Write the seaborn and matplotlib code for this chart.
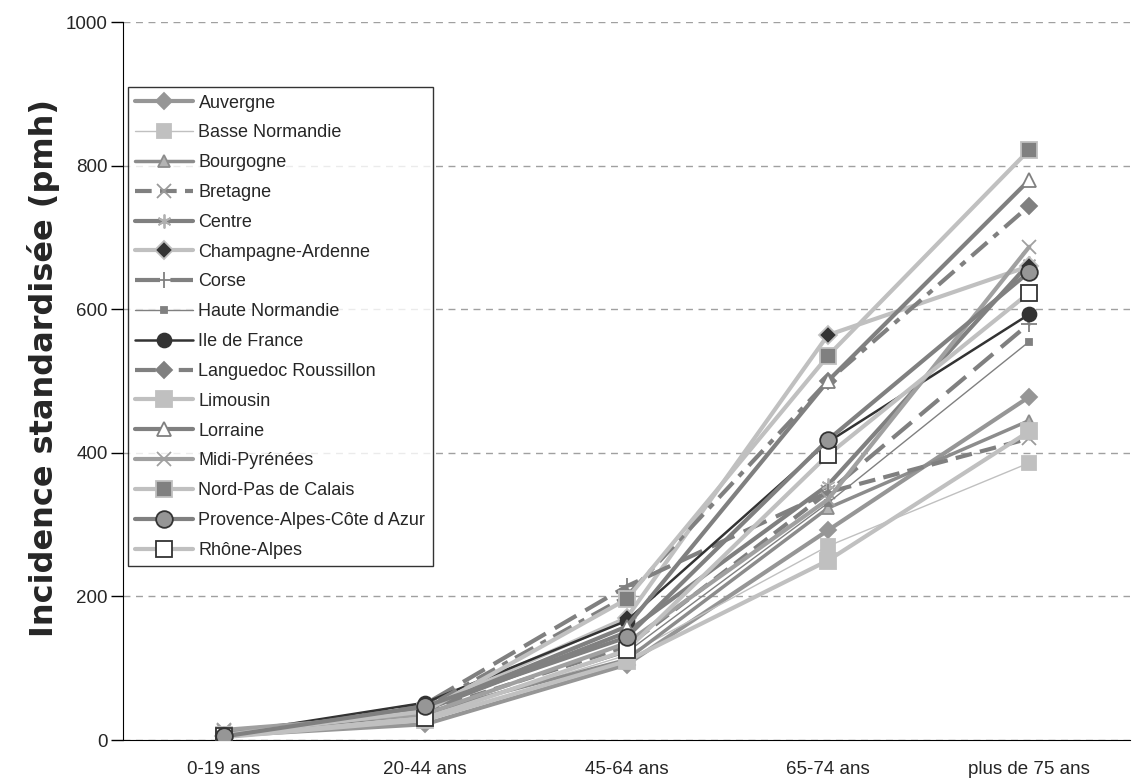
import numpy as np
import pandas as pd
import matplotlib
matplotlib.use("Agg")
import matplotlib.pyplot as plt
from matplotlib.ticker import MultipleLocator, FixedLocator
import seaborn as sns

# age groups on the x axis
categories = ["0-19 ans", "20-44 ans", "45-64 ans", "65-74 ans", "plus de 75 ans"]

# incidence per region (pmh)
auvergne = [6, 22, 105, 292, 478]
basse_normandie = [5, 33, 118, 270, 386]
bourgogne = [7, 38, 112, 323, 445]
bretagne = [12, 40, 130, 345, 420]
centre = [8, 42, 150, 355, 664]
champagne = [6, 45, 170, 564, 660]
corse = [5, 50, 214, 345, 580]
haute_normandie = [7, 35, 122, 330, 555]
ile_de_france = [8, 52, 166, 415, 593]
languedoc = [6, 45, 200, 500, 744]
limousin = [4, 28, 110, 250, 430]
lorraine = [8, 43, 158, 500, 780]
midi_pyrenees = [14, 36, 135, 335, 687]
nord_pas = [7, 40, 196, 535, 822]
paca = [5, 47, 143, 418, 652]
rhone_alpes = [5, 30, 125, 397, 623]

regions = ["Auvergne", "Basse Normandie", "Bourgogne", "Bretagne", "Centre",
           "Champagne-Ardenne", "Corse", "Haute Normandie", "Ile de France",
           "Languedoc Roussillon", "Limousin", "Lorraine", "Midi-Pyrénées",
           "Nord-Pas de Calais", "Provence-Alpes-Côte d Azur", "Rhône-Alpes"]
values = [auvergne, basse_normandie, bourgogne, bretagne, centre, champagne,
          corse, haute_normandie, ile_de_france, languedoc, limousin, lorraine,
          midi_pyrenees, nord_pas, paca, rhone_alpes]

# line / marker look for each region (Excel grayscale style)
styles = {
    "Auvergne": dict(color="#969696", lw=3, ls="-", marker="D", ms=8, mfc="#969696", mec="#969696"),
    "Basse Normandie": dict(color="#c0c0c0", lw=1, ls="-", marker="s", ms=10, mfc="#c0c0c0", mec="#c0c0c0"),
    "Bourgogne": dict(color="#8c8c8c", lw=2.5, ls="-", marker="^", ms=9, mfc="#b4b4b4", mec="#8c8c8c"),
    "Bretagne": dict(color="#808080", lw=3, ls=(0, (4, 2)), marker="x", ms=10, mfc="none", mec="#9a9a9a"),
    "Centre": dict(color="#808080", lw=3, ls="-", marker=(6, 2, 0), ms=10, mfc="none", mec="#b0b0b0"),
    "Champagne-Ardenne": dict(color="#c0c0c0", lw=3, ls="-", marker="D", ms=9, mfc="#333333", mec="#c0c0c0"),
    "Corse": dict(color="#808080", lw=3, ls=(0, (6, 2.5)), marker="+", ms=11, mfc="none", mec="#808080"),
    "Haute Normandie": dict(color="#808080", lw=1, ls="-", marker="s", ms=5, mfc="#808080", mec="#808080"),
    "Ile de France": dict(color="#333333", lw=1.8, ls="-", marker="o", ms=10, mfc="#333333", mec="#333333"),
    "Languedoc Roussillon": dict(color="#808080", lw=3, ls=(0, (5, 2, 1.5, 2)), marker="D", ms=8, mfc="#808080", mec="#808080"),
    "Limousin": dict(color="#c0c0c0", lw=3, ls="-", marker="s", ms=11, mfc="#c0c0c0", mec="#c0c0c0"),
    "Lorraine": dict(color="#808080", lw=3, ls="-", marker="^", ms=10, mfc="white", mec="#808080"),
    "Midi-Pyrénées": dict(color="#a0a0a0", lw=3, ls="-", marker="x", ms=10, mfc="none", mec="#a0a0a0"),
    "Nord-Pas de Calais": dict(color="#c0c0c0", lw=3, ls="-", marker="s", ms=11, mfc="#808080", mec="#c0c0c0"),
    "Provence-Alpes-Côte d Azur": dict(color="#808080", lw=3, ls="-", marker="o", ms=12, mfc="#969696", mec="#333333"),
    "Rhône-Alpes": dict(color="#c0c0c0", lw=3, ls="-", marker="s", ms=11, mfc="white", mec="#333333"),
}

sns.set_style("white")
plt.rcParams["font.family"] = ["Liberation Sans", "DejaVu Sans"]

fig, ax = plt.subplots(figsize=(11.36, 7.78), dpi=100)
fig.subplots_adjust(left=0.1083, right=0.9947, bottom=0.0488, top=0.9717)

x = np.arange(len(categories))
for name, vals in zip(regions, values):
    st = styles[name]
    z = 4 if name.startswith("Provence") else 3
    sns.lineplot(x=x, y=vals, ax=ax, label=name, color=st["color"],
                 linewidth=st["lw"], linestyle=st["ls"], marker=st["marker"],
                 markersize=st["ms"], markerfacecolor=st["mfc"],
                 markeredgecolor=st["mec"], markeredgewidth=1.3, zorder=z)

ax.set_xlim(-0.5, len(categories) - 0.5)
ax.set_ylim(0, 1000)
ax.yaxis.set_major_locator(MultipleLocator(200))

# category labels centred, tick marks between categories
ax.set_xticks(x)
ax.set_xticklabels(categories)
ax.xaxis.set_minor_locator(FixedLocator(np.arange(-0.5, len(categories), 1.0)))
ax.tick_params(axis="x", which="major", length=0, pad=15, labelsize=13.5)
ax.tick_params(axis="x", which="minor", length=5, width=1, color="black", direction="out")
ax.tick_params(axis="y", which="major", length=9, width=1, color="black",
               direction="out", pad=2, labelsize=13.5, left=True)

# dashed gridlines at the inner y ticks only
for yv in ax.get_yticks()[1:-1]:
    ax.axhline(yv, color="#a0a0a0", linestyle=(0, (5, 4)), linewidth=1, zorder=0)

sns.despine(ax=ax, top=True, right=True)
ax.spines["left"].set_color("black")
ax.spines["bottom"].set_color("black")

ax.set_ylabel("Incidence standardisée (pmh)", fontsize=23, fontweight="bold",
              family=["DejaVu Sans"])
ax.yaxis.label.set_verticalalignment("center")
ax.yaxis.set_label_coords(-0.079, 0.518)
ax.set_xlabel("")

leg = ax.legend(loc="upper left", bbox_to_anchor=(0.005, 0.909), frameon=True,
                fancybox=False, edgecolor="black", fontsize=13, labelspacing=0.71,
                handlelength=3.2, handletextpad=0.3, borderpad=0.4,
                borderaxespad=0)
leg.get_frame().set_linewidth(1)

plt.savefig("out.png", dpi=100)
